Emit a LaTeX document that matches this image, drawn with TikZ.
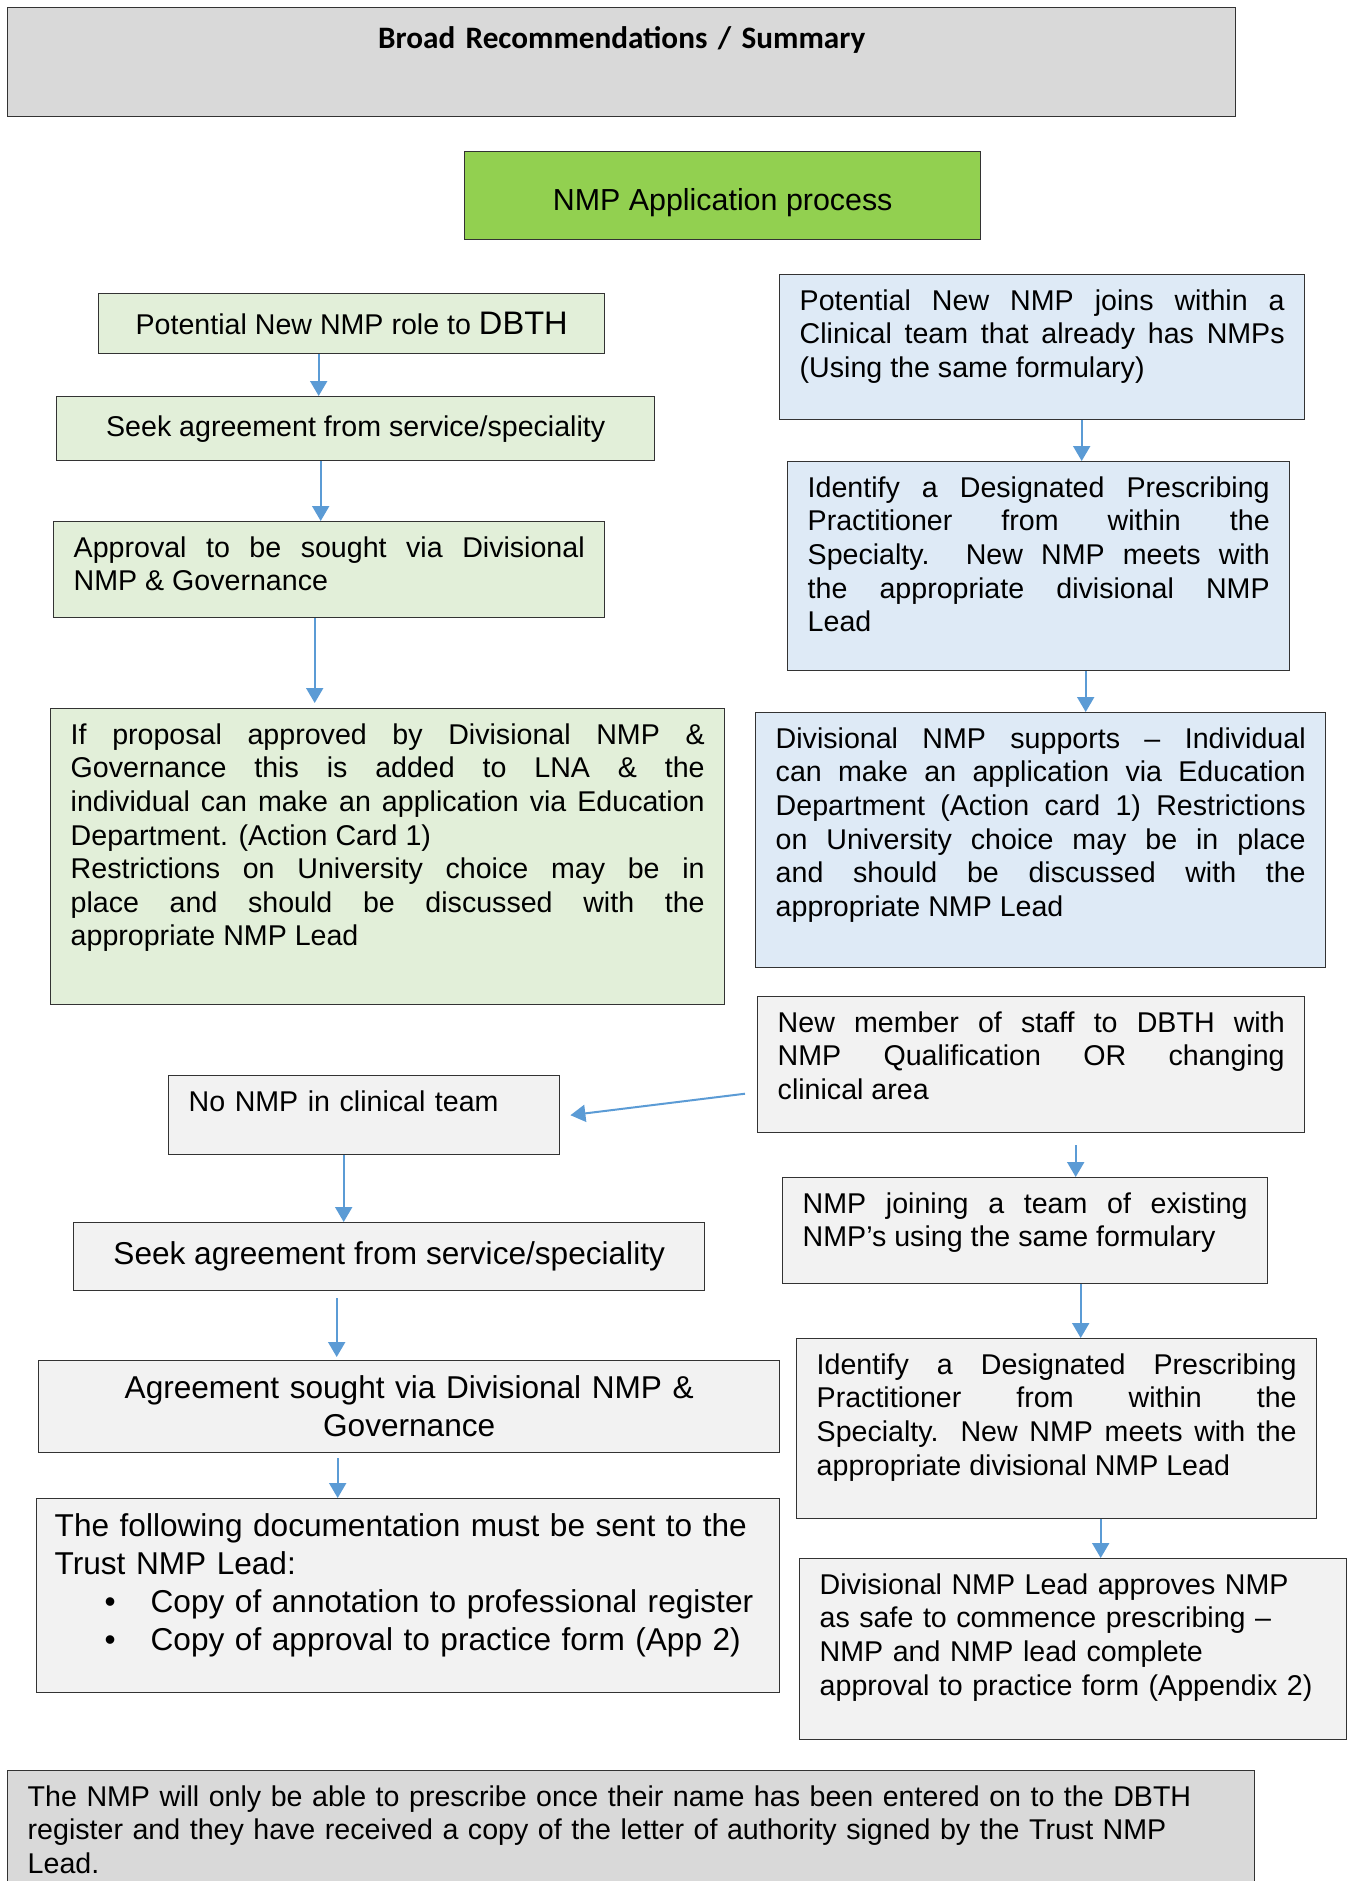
\documentclass[tikz,border=0pt]{standalone}
\usepackage{fontspec}
\setmainfont{Liberation Sans}
\newfontfamily\titlefont{Carlito}
\usetikzlibrary{arrows.meta}

\definecolor{bargrey}{HTML}{D9D9D9}
\definecolor{boxgrey}{HTML}{F2F2F2}
\definecolor{boxgreen}{HTML}{E2EFD9}
\definecolor{headgreen}{HTML}{92D050}
\definecolor{boxblue}{HTML}{DEEAF6}
\definecolor{arrowblue}{HTML}{5B9BD5}

\newcommand\basefont{\fontsize{14.3}{16.8}\selectfont}
\newcommand\bigfont{\fontsize{15.8}{19}\selectfont}
\hyphenpenalty=10000
\tolerance=10000

\begin{document}
\begin{tikzpicture}[x=0.5pt, y=-0.5pt,
  box/.style={draw=black!80, line width=0.7pt, anchor=north west, inner xsep=10pt, inner ysep=5pt, font=\basefont, text height=12.8pt},
  cbox/.style={draw=black!80, line width=0.7pt, anchor=north west, inner sep=2pt, font=\basefont, align=center},
  arr/.style={draw=arrowblue, line width=1pt, -{Triangle[width=8.5pt,length=7.5pt]}}]
\useasboundingbox (0,0) rectangle (1351,1881);
\clip (0,0) rectangle (1351,1881);
% Header
\node[box, fill=bargrey, text width=594pt, align=center, font=\titlefont\bfseries\fontsize{15.6}{19}\selectfont, text height=15.5pt, text depth=29pt] (title) at (7,7) {Broad Recommendations / Summary};
\node[cbox, fill=headgreen, minimum width=258pt, minimum height=44pt, font=\fontsize{15.2}{18}\selectfont, text height=18pt, text depth=2.8pt] (head) at (464,151) {NMP Application process};
% Left column
\node[cbox, fill=boxgreen, minimum width=253pt, minimum height=30pt] (role) at (98,293) {Potential New NMP role to {\fontsize{16.3}{19}\selectfont DBTH}};
\node[cbox, fill=boxgreen, minimum width=299pt, minimum height=32pt] (seekA) at (56,396) {Seek agreement from service/speciality};
\node[box, fill=boxgreen, align=justify, text width=255.5pt, text depth=25.2pt] (approval) at (53,521) {Approval to be sought via Divisional\linebreak NMP \& Governance};
\node[box, fill=boxgreen, align=justify, text width=317pt, text depth=125.2pt] (proposal) at (50,708) {If proposal approved by Divisional NMP \&\linebreak Governance this is added to LNA \& the\linebreak individual can make an application via Education\linebreak Department. (Action Card 1)\par Restrictions on University choice may be in\linebreak place and should be discussed with the\linebreak appropriate NMP Lead};
% Right column
\node[box, fill=boxblue, align=justify, text width=242.5pt, text depth=49.7pt] (joins) at (779,274) {Potential New NMP joins within a\linebreak Clinical team that already has NMPs\linebreak (Using the same formulary)};
\node[box, fill=boxblue, align=justify, text width=231pt, text depth=81.7pt] (identA) at (787,461) {Identify a Designated Prescribing\linebreak Practitioner from within the\linebreak Specialty.\ \ New NMP meets with\linebreak the appropriate divisional NMP\linebreak Lead};
\node[box, fill=boxblue, align=justify, text width=265pt, text depth=104.7pt] (supports) at (755,712) {Divisional NMP supports – Individual\linebreak can make an application via Education\linebreak Department (Action card 1) Restrictions\linebreak on University choice may be in place\linebreak and should be discussed with the\linebreak appropriate NMP Lead};
% Lower boxes
\node[box, fill=boxgrey, align=justify, text width=253.5pt, text depth=45.2pt] (newstaff) at (757,996) {New member of staff to DBTH with\linebreak NMP Qualification OR changing\linebreak clinical area};
\node[box, fill=boxgrey, align=left, text width=175.5pt, text depth=16.7pt] (nonmp) at (168,1075) {No NMP in clinical team};
\node[cbox, fill=boxgrey, minimum width=315.5pt, minimum height=34pt, font=\bigfont] (seekB) at (73,1222) {Seek agreement from service/speciality};
\node[box, fill=boxgrey, align=center, font=\bigfont, text height=14pt, text width=350.5pt, text depth=22pt] (sought) at (38,1360) {Agreement sought via Divisional NMP \&\\ Governance};
\node[box, fill=boxgrey, align=left, font=\bigfont, text height=14pt, inner xsep=9pt, text width=353.5pt, text depth=73pt] (docs) at (36,1498) {The following documentation must be sent to the\\ Trust NMP Lead:\\ \hspace*{25pt}\makebox[23pt][l]{\textbullet}Copy of annotation to professional register\\ \hspace*{25pt}\makebox[23pt][l]{\textbullet}Copy of approval to practice form (App 2)};
\node[box, fill=boxgrey, align=justify, text width=222.5pt, text depth=30.2pt] (joining) at (782,1177) {NMP joining a team of existing\linebreak NMP’s using the same formulary};
\node[box, fill=boxgrey, align=justify, text width=240pt, text depth=67.2pt] (identB) at (796,1338) {Identify a Designated Prescribing\linebreak Practitioner from within the\linebreak Specialty. New NMP meets with the\linebreak appropriate divisional NMP Lead};
\node[box, fill=boxgrey, align=left, text width=253.5pt, text depth=67.7pt] (approves) at (799,1558) {Divisional NMP Lead approves NMP\\ as safe to commence prescribing –\\ NMP and NMP lead complete\\ approval to practice form (Appendix 2)};
% Footer
\node[box, fill=bargrey, align=left, text width=603.5pt, text depth=47.2pt] (note) at (7,1770) {The NMP will only be able to prescribe once their name has been entered on to the DBTH\\ register and they have received a copy of the letter of authority signed by the Trust NMP\\ Lead.};
% Arrows
\draw[arr] ([xshift=-16.5pt]role.south) -- ([xshift=-18.5pt]seekA.north);
\draw[arr] ([xshift=-17.5pt]seekA.south) -- ([xshift=-4.25pt]approval.north);
\draw[arr] ([xshift=-7.25pt]approval.south) -- ([xshift=-36.5pt,yshift=2.5pt]proposal.north);
\draw[arr] ([xshift=19.75pt]joins.south) -- ([xshift=21.5pt]identA.north);
\draw[arr] ([xshift=23.5pt]identA.south) -- ([xshift=22.5pt]supports.north);
\draw[arr] ([xshift=-6pt,yshift=-14.5pt]newstaff.west) -- ([xshift=5pt]nonmp.east);
\draw[arr] ([xshift=-10.25pt]nonmp.south) -- ([xshift=-22.75pt]seekB.north);
\draw[arr] ([xshift=-26.25pt,yshift=-3.5pt]seekB.south) -- ([xshift=-36.25pt,yshift=1.5pt]sought.north);
\draw[arr] ([xshift=-35.75pt,yshift=-2.5pt]sought.south) -- ([xshift=-35.25pt]docs.north);
\draw[arr] ([xshift=22.25pt,yshift=-6pt]newstaff.south) -- ([xshift=25.25pt]joining.north);
\draw[arr] ([xshift=27.75pt]joining.south) -- ([xshift=12pt]identB.north);
\draw[arr] ([xshift=22pt]identB.south) -- ([xshift=13.75pt]approves.north);
\end{tikzpicture}
\end{document}
